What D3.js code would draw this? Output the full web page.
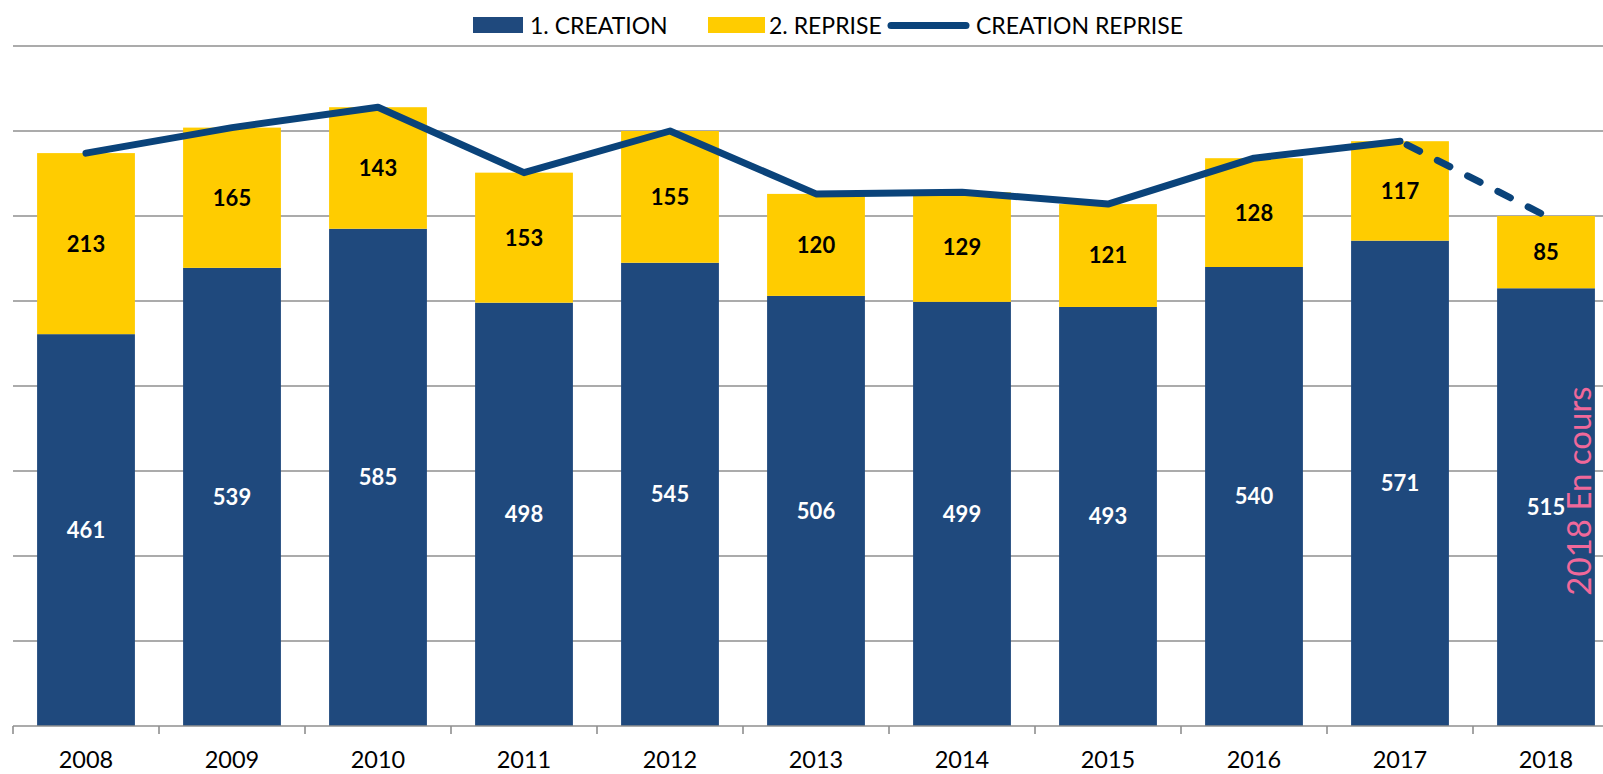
<!DOCTYPE html>
<html><head><meta charset="utf-8">
<script src="https://cdn.jsdelivr.net/npm/d3@7"></script>
<style>html,body{margin:0;padding:0;background:#fff;overflow:hidden}</style>
</head><body>
<svg id="c" width="1603" height="774"></svg>
<script>
const years = ["2008","2009","2010","2011","2012","2013","2014","2015","2016","2017","2018"];
const creation = [461,539,585,498,545,506,499,493,540,571,515];
const reprise = [213,165,143,153,155,120,129,121,128,117,85];
const totals = [674,704,728,651,700,626,628,614,668,688,600];
const yTicks = [0,100,200,300,400,500,600,700,800];

(function(){
const svg = d3.select("#c");
const font = "Lato, 'Open Sans', sans-serif";
const pLeft = 13, step = 146, pBottom = 726, pTop = 46;
const x = d3.scaleBand().domain(years).range([pLeft, pLeft + step*years.length]).paddingInner(0.33).paddingOuter(0.165);
const y = d3.scaleLinear().domain([0,800]).range([pBottom, pTop]);

// gridlines
svg.append("g").selectAll("line").data(yTicks.slice(1)).join("line")
  .attr("x1", pLeft).attr("x2", 1603).attr("y1", d=>y(d)).attr("y2", d=>y(d))
  .attr("stroke", "#8f8f8f").attr("stroke-width", 1.6);

// bars
const off = (x.step()-x.bandwidth())/2;
svg.append("g").selectAll("rect").data(years).join("rect")
  .attr("x", d=>x(d)).attr("width", x.bandwidth())
  .attr("y", (d,i)=>y(creation[i])).attr("height", (d,i)=>y(0)-y(creation[i]))
  .attr("fill", "#1f497d");
svg.append("g").selectAll("rect").data(years).join("rect")
  .attr("x", d=>x(d)).attr("width", x.bandwidth())
  .attr("y", (d,i)=>y(creation[i]+reprise[i])).attr("height", (d,i)=>y(creation[i])-y(creation[i]+reprise[i]))
  .attr("fill", "#ffcc00");

// axis
svg.append("line").attr("x1", pLeft).attr("x2", 1603).attr("y1", pBottom).attr("y2", pBottom)
  .attr("stroke", "#8f8f8f").attr("stroke-width", 1.6);
const tickXs = years.map(d=>x(d)-off).concat([x(years[years.length-1])+x.bandwidth()+off]);
svg.append("g").selectAll("line").data(tickXs).join("line")
  .attr("x1", d=>d).attr("x2", d=>d).attr("y1", pBottom).attr("y2", pBottom+8)
  .attr("stroke", "#8f8f8f").attr("stroke-width", 1.6);
svg.append("g").selectAll("text").data(years).join("text")
  .attr("x", d=>x(d)+x.bandwidth()/2).attr("y", 768)
  .attr("text-anchor","middle").attr("font-family", font).attr("font-size", 23.5).attr("fill","#000")
  .text(d=>d);

// labels
svg.append("g").selectAll("text").data(years).join("text")
  .attr("x", d=>x(d)+x.bandwidth()/2).attr("y", (d,i)=>(y(0)+y(creation[i]))/2)
  .attr("dy","0.36em").attr("text-anchor","middle").attr("font-family", font).attr("font-weight","bold")
  .attr("font-size", 22).attr("fill","#fff").text((d,i)=>creation[i]);
svg.append("g").selectAll("text").data(years).join("text")
  .attr("x", d=>x(d)+x.bandwidth()/2).attr("y", (d,i)=>(y(creation[i])+y(creation[i]+reprise[i]))/2)
  .attr("dy","0.36em").attr("text-anchor","middle").attr("font-family", font).attr("font-weight","bold")
  .attr("font-size", 22).attr("fill","#000").text((d,i)=>reprise[i]);

// line
const pts = years.map((d,i)=>[x(d)+x.bandwidth()/2, y(totals[i])]);
const line = d3.line();
svg.append("path").attr("d", line(pts.slice(0,10))).attr("fill","none")
  .attr("stroke","#0a437a").attr("stroke-width",7).attr("stroke-linejoin","round").attr("stroke-linecap","round");
svg.append("path").attr("d", line(pts.slice(9))).attr("fill","none")
  .attr("stroke","#0a437a").attr("stroke-width",7).attr("stroke-linecap","round").attr("stroke-dasharray","14,20")
  .attr("stroke-dashoffset", -8);

// annotation
svg.append("text").attr("transform","translate(1591,491) rotate(-90)")
  .attr("text-anchor","middle").attr("font-family", font).attr("font-size", 33).attr("fill","#f0689a")
  .text("2018 En cours");

// legend
const lg = svg.append("g").attr("font-family", font).attr("font-size", 23).attr("fill","#000");
lg.append("rect").attr("x",473).attr("y",17).attr("width",50).attr("height",16).attr("fill","#1f497d");
lg.append("text").attr("x",530).attr("y",34).text("1. CREATION");
lg.append("rect").attr("x",708).attr("y",17).attr("width",57).attr("height",16).attr("fill","#ffcc00");
lg.append("text").attr("x",769).attr("y",34).text("2. REPRISE");
lg.append("line").attr("x1",891).attr("x2",966).attr("y1",25.5).attr("y2",25.5).attr("stroke","#0a437a").attr("stroke-width",7).attr("stroke-linecap","round");
lg.append("text").attr("x",976).attr("y",34).text("CREATION REPRISE");
})();
</script>
</body></html>
